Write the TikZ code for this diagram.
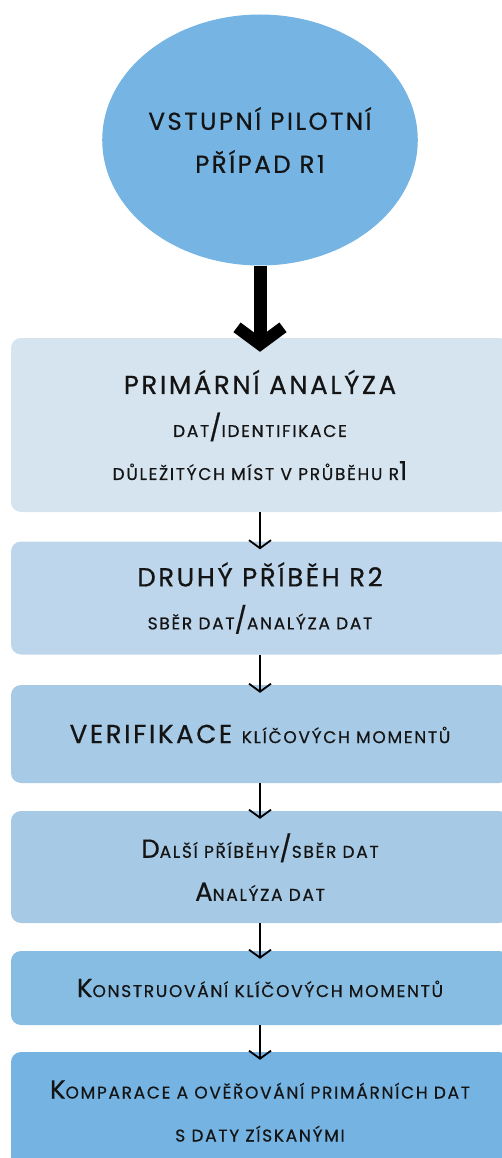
\documentclass[tikz,border=0pt]{standalone}
\usepackage{fontspec}
\setmainfont[LetterSpace=10,FakeBold=0.6]{Poppins}
\usetikzlibrary{arrows.meta,shapes.geometric}

\definecolor{startfill}{HTML}{75B4E3}
\definecolor{boxa}{HTML}{D6E4F0}
\definecolor{boxb}{HTML}{BDD6EC}
\definecolor{boxc}{HTML}{A7CAE6}
\definecolor{boxd}{HTML}{A6C9E5}
\definecolor{boxe}{HTML}{88BDE3}
\definecolor{boxf}{HTML}{74B3E2}
\definecolor{ink}{HTML}{141414}

% small caps by hand
\newcommand{\smc}[1]{{\fontsize{17}{43}\selectfont #1}}

\begin{document}
\begin{tikzpicture}[x=1pt,y=-1pt,
    stepbox/.style={rectangle,rounded corners=10pt,minimum width=498pt,
      inner sep=0pt,align=center,text=ink,font=\fontsize{26}{43}\selectfont},
    bigarrow/.style={line width=13pt,
      -{Straight Barb[length=17pt,width=46pt,line width=12pt]},shorten >=-14pt},
    thinarrow/.style={line width=1.8pt,
      -{Straight Barb[length=8pt,width=22pt,line width=1.8pt]},shorten >=-8pt}]
    \clip (0,0) rectangle (502,1158);

    \node[ellipse,fill=startfill,minimum width=290pt,minimum height=251pt,
      inner sep=0pt,align=center,text=ink,font=\fontsize{24.5}{43}\selectfont]
      (start) at (260,140) {VSTUPNÍ PILOTNÍ\\PŘÍPAD R1};

    \node[stepbox,fill=boxa,minimum height=174pt] (prim) at (260,425)
      {PRIMÁRNÍ ANALÝZA\\\smc{DAT}/\smc{IDENTIFIKACE}\\\smc{DŮLEŽITÝCH MÍST V PRŮBĚHU R}1};
    \node[stepbox,fill=boxb,minimum height=113pt] (druhy) at (260,598)
      {DRUHÝ PŘÍBĚH R2\\\smc{SBĚR DAT}/\smc{ANALÝZA DAT}};
    \node[stepbox,fill=boxc,minimum height=98pt] (verif) at (260,734)
      {VERIFIKACE \smc{KLÍČOVÝCH MOMENTŮ}};
    \node[stepbox,fill=boxd,minimum height=112pt] (dalsi) at (260,867)
      {D\smc{ALŠÍ PŘÍBĚHY}/\smc{SBĚR DAT}\\A\smc{NALÝZA DAT}};
    \node[stepbox,fill=boxe,minimum height=74pt] (konstr) at (260,988)
      {K\smc{ONSTRUOVÁNÍ KLÍČOVÝCH MOMENTŮ}};
    \node[stepbox,fill=boxf,minimum height=118pt] (kompar) at (260,1111)
      {K\smc{OMPARACE A OVĚŘOVÁNÍ PRIMÁRNÍCH DAT}\\\smc{S DATY ZÍSKANÝMI}};

    \draw[bigarrow] (start) -- (prim);
    \draw[thinarrow] (prim) -- (druhy);
    \draw[thinarrow] (druhy) -- (verif);
    \draw[thinarrow] (verif) -- (dalsi);
    \draw[thinarrow] (dalsi) -- (konstr);
    \draw[thinarrow] (konstr) -- (kompar);
\end{tikzpicture}
\end{document}
